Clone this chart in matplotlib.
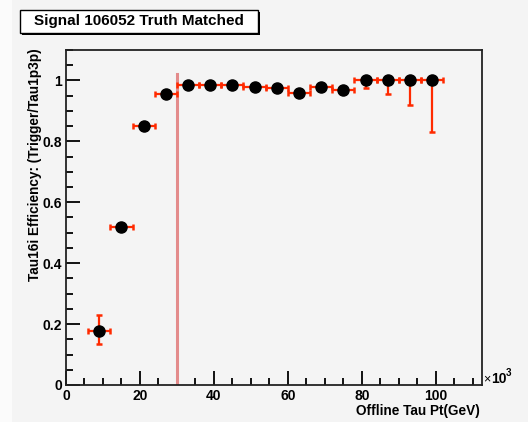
import matplotlib
matplotlib.use("Agg")

import matplotlib.pyplot as plt
from matplotlib.patches import Rectangle
from matplotlib.ticker import MultipleLocator, FuncFormatter

plt.rcParams["font.family"] = ["Liberation Sans", "DejaVu Sans"]

# offline tau pt bin centres and half widths (MeV)
pt = [9000, 15000, 21000, 27000, 33000, 39000, 45000, 51000,
      57000, 63000, 69000, 75000, 81000, 87000, 93000, 99000]
pt_err = [3000] * 16

# trigger efficiency and asymmetric errors
eff = [0.178, 0.52, 0.85, 0.955, 0.985, 0.985, 0.985, 0.98,
       0.975, 0.96, 0.98, 0.97, 1.0, 1.0, 1.0, 1.0]
eff_lo = [0.045, 0.012, 0.012, 0.008, 0.006, 0.006, 0.006, 0.008,
          0.012, 0.01, 0.008, 0.014, 0.026, 0.046, 0.081, 0.168]
eff_hi = [0.052, 0.012, 0.012, 0.008, 0.006, 0.006, 0.006, 0.008,
          0.008, 0.01, 0.008, 0.01, 0.0, 0.0, 0.0, 0.0]

cut_pt = 30000

BG = "#f4f4f4"
RED = "#ff2a00"

W, H = 528, 422
fig = plt.figure(figsize=(W / 100, H / 100), dpi=100)
fig.patch.set_facecolor(BG)

# light strip on the left edge
fig.patches.append(Rectangle((0, 0), 12 / W, 1, transform=fig.transFigure,
                             facecolor="#fbfbfb", edgecolor="none", zorder=0))

ax = fig.add_axes([66 / W, 1 - 385 / H, (482 - 66) / W, (385 - 50) / H])
ax.set_facecolor(BG)

ax.errorbar(pt, eff, xerr=pt_err, yerr=[eff_lo, eff_hi], fmt="o",
            color="black", markersize=8, ecolor=RED, elinewidth=1.6,
            capsize=2.3, capthick=1.8, zorder=3)

ax.plot([cut_pt, cut_pt], [0, 1.02], color="#e38b8b", linewidth=2.2, zorder=2)

ax.set_xlim(0, 112500)
ax.set_ylim(0, 1.1)

ax.xaxis.set_major_locator(MultipleLocator(20000))
ax.xaxis.set_minor_locator(MultipleLocator(5000))
ax.xaxis.set_major_formatter(FuncFormatter(lambda v, p: f"{v / 1000:.0f}"))
ax.yaxis.set_major_locator(MultipleLocator(0.2))
ax.yaxis.set_minor_locator(MultipleLocator(0.05))
ax.yaxis.set_major_formatter(FuncFormatter(lambda v, p: f"{v:g}"))

ax.tick_params(which="both", direction="in", top=False, right=False,
               width=1.3, colors="black", labelsize=10)
ax.tick_params(which="major", length=10, pad=3)
ax.tick_params(which="minor", length=5)
for lab in ax.get_xticklabels() + ax.get_yticklabels():
    lab.set_fontweight("bold")

for s in ax.spines.values():
    s.set_linewidth(1.3)
    s.set_color("#222222")

fig.text(480 / W, 1 - 411 / H, "Offline Tau Pt(GeV)", ha="right",
         va="center", fontsize=9.8, fontweight="bold")
fig.text(35 / W, 1 - 48 / H, "Tau16i Efficiency: (Trigger/Tau1p3p)",
         rotation=90, ha="center", va="top", fontsize=9.8, fontweight="bold")

# x10^3 exponent label
fig.text(483 / W, 1 - 379 / H, "×", ha="left", va="center", fontsize=9)
fig.text(491 / W, 1 - 379 / H, "10", ha="left", va="center", fontsize=10,
         fontweight="bold")
fig.text(506 / W, 1 - 373 / H, "3", ha="left", va="center", fontsize=7,
         fontweight="bold")

# title box with shadow
fig.patches.append(Rectangle((22 / W, 1 - 35 / H), 238 / W, 23 / H,
                             transform=fig.transFigure, facecolor="black",
                             edgecolor="none", zorder=4))
fig.patches.append(Rectangle((20 / W, 1 - 33 / H), 238 / W, 23 / H,
                             transform=fig.transFigure, facecolor="white",
                             edgecolor="black", linewidth=1, zorder=5))
fig.text(139 / W, 1 - 21.5 / H, "Signal 106052 Truth Matched", ha="center",
         va="center", fontsize=11, fontweight="bold", zorder=6)

fig.savefig("out.png", dpi=100, facecolor=fig.get_facecolor())
